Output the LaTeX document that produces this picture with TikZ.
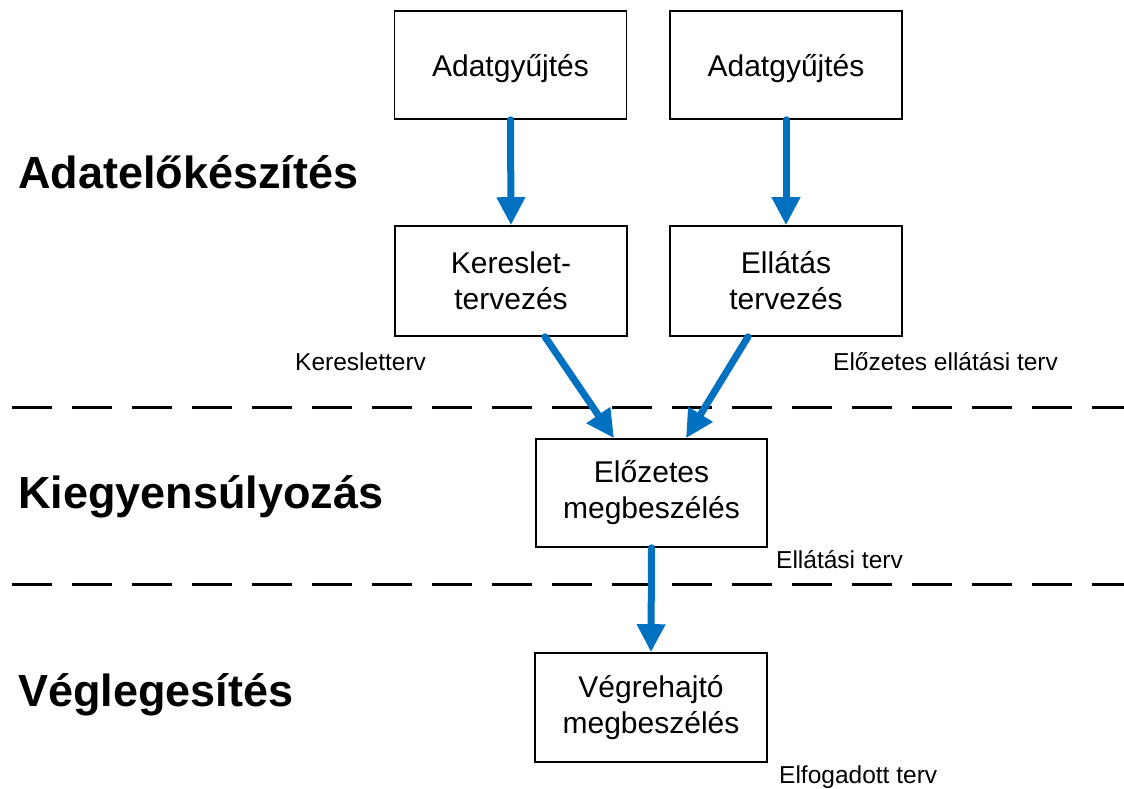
\documentclass[tikz,border=0pt]{standalone}
\usepackage{fontspec}
\setmainfont{Liberation Sans}
\usetikzlibrary{arrows.meta,calc}
\definecolor{arrowblue}{HTML}{0070C0}
\begin{document}
\begin{tikzpicture}[x=1pt,y=-1pt,
  box/.style={draw=black,line width=1.6pt,minimum width=232pt,minimum height=108pt,
    inner sep=0pt,align=center,font=\fontsize{30}{36}\selectfont},
  phase/.style={anchor=west,inner sep=0pt,font=\fontsize{45}{54}\selectfont\bfseries},
  lbl/.style={anchor=west,inner sep=0pt,font=\fontsize{24.5}{29}\selectfont},
  flow/.style={draw=arrowblue,line width=7pt,line cap=round,
    -{Triangle[width=27pt,length=28pt]}},
  sep/.style={draw=black,line width=3pt,dash pattern=on 40pt off 20pt}]
\useasboundingbox (0,0) rectangle (1124,789);
\fill[white] (0,0) rectangle (1124,789);

\node[box,text depth=0pt] (a1) at (510.5,65) {Adatgyűjtés};
\node[box,text depth=0pt] (a2) at (786,65) {Adatgyűjtés};
\node[box,minimum height=110pt] (b1) at (511,281) {Kereslet-\\tervezés};
\node[box,minimum height=110pt] (b2) at (786,281) {Ellátás\\tervezés};
\node[box,minimum width=231pt] (c) at (651.5,493) {Előzetes\\megbeszélés};
\node[box,minimum height=109pt] (d) at (651,707.5) {Végrehajtó\\megbeszélés};

\node[phase] (p1) at (18,172) {Adatelőkészítés};
\node[phase] (p2) at (18,497) {Kiegyensúlyozás};
\node[phase] (p3) at (18,695) {Véglegesítés};

\node[lbl] (l1) at (295,362) {Keresletterv};
\node[lbl] (l2) at (833,362) {Előzetes ellátási terv};
\node[lbl] (l3) at (776,560) {Ellátási terv};
\node[lbl] (l4) at (779,777) {Elfogadott terv};

\coordinate (s1a) at (12,407);
\coordinate (s1b) at (1124,407);
\coordinate (s2a) at (12,584);
\coordinate (s2b) at (1124,584);
\draw[sep] (s1a) -- (s1b);
\draw[sep] (s2a) -- (s2b);

\draw[flow] (a1.south) -- (b1.north);
\draw[flow] (a2.south) -- (b2.north);
\draw[flow] ([xshift=34pt]b1.south) -- ([xshift=-37.5pt]c.north);
\draw[flow] ([xshift=-38pt]b2.south) -- ([xshift=34.5pt]c.north);
\draw[flow] (c.south) -- (d.north);
\end{tikzpicture}
\end{document}
